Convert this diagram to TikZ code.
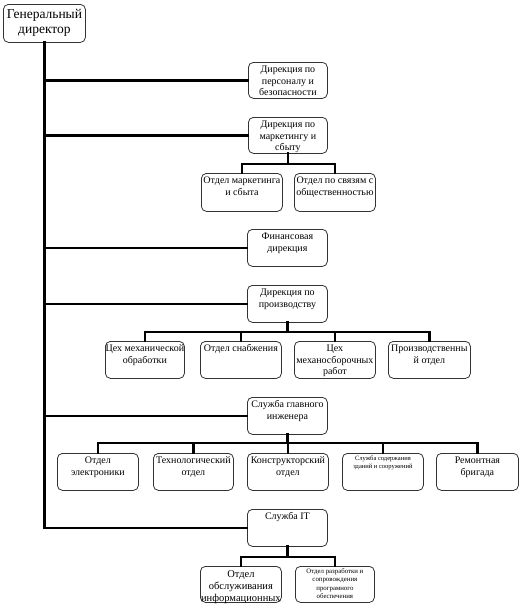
\documentclass[tikz,border=0pt]{standalone}
\usepackage{fontspec}
\setmainfont{Liberation Serif}
\tikzset{
  box/.style={draw=black!80, line width=0.8pt, rounded corners=5pt, inner sep=0pt, fill=white},
  conn/.style={line width=2.7pt, line cap=rect},
}
\newcommand\fa{\fontsize{10}{11.5}\selectfont}
\newcommand\fbig{\fontsize{13.5}{15}\selectfont}
\newcommand\fsmall{\fontsize{6.5}{8}\selectfont}
\newcommand\ftiny{\fontsize{6.8}{8.3}\selectfont}
\newcommand\fmid{\fontsize{10.5}{12}\selectfont}
% name, x, y, w, h, font, text
\newcommand\orgbox[7]{%
  \node[box, anchor=north west] (#1) at (#2pt,-#3pt)
    {\parbox[c][#5pt][t]{#4pt}{\centering #6\rule{0pt}{1.05em}#7\par}};}
\begin{document}
\begin{tikzpicture}
\useasboundingbox (0,0) rectangle (520pt,-608pt);
% nodes
\orgbox{gd}{3}{4}{82}{38}{\fbig}{Генеральный\\директор}
\orgbox{d1}{248}{62}{79}{36}{\fa}{Дирекция по\\персоналу и\\безопасности}
\orgbox{d2}{248}{117}{79}{36}{\fa}{Дирекция по\\маркетингу и\\сбыту}
\orgbox{m1}{201}{173}{81}{38}{\fa}{Отдел маркетинга\\и сбыта}
\orgbox{m2}{294}{173}{81}{38}{\fa}{Отдел по связям с\\общественностью}
\orgbox{d3}{247}{229}{80}{37}{\fa}{Финансовая\\дирекция}
\orgbox{d4}{247}{285}{80}{37}{\fa}{Дирекция по\\производству}
\orgbox{p1}{105}{341}{79}{37}{\fa}{Цех механической\\обработки}
\orgbox{p2}{200}{341}{81}{37}{\fa}{Отдел снабжения}
\orgbox{p3}{294}{341}{81}{37}{\fa}{Цех\\механосборочных\\работ}
\orgbox{p4}{388}{341}{82}{37}{\fa}{Производственны\\й отдел}
\orgbox{d5}{247}{397}{80}{37}{\fa}{Служба главного\\инженера}
\orgbox{e1}{57}{453}{81}{37}{\fa}{Отдел\\электроники}
\orgbox{e2}{153}{453}{80}{37}{\fa}{Технологический\\отдел}
\orgbox{e3}{247}{453}{81}{37}{\fa}{Конструкторский\\отдел}
\orgbox{e4}{342}{453}{81}{37}{\fsmall}{Служба содержания\\зданий и сооружений}
\orgbox{e5}{436}{453}{82}{37}{\fa}{Ремонтная\\бригада}
\orgbox{d6}{247}{509}{80}{37}{\fa}{Служба IT}
\orgbox{i1}{200}{566}{81}{36}{\fmid}{Отдел\\обслуживания\\информационных}
\orgbox{i2}{295}{566}{79}{36}{\ftiny}{Отдел разработки и\\сопровождения\\програмного\\обеспечения}
% bus coordinates
\coordinate (tend) at (gd.south |- d6.west);
\coordinate (b2) at (d2.south |- 0,-164pt);
\coordinate (b4) at (d4.south |- 0,-332pt);
\coordinate (b5) at (d5.south |- 0,-443pt);
\coordinate (b6) at (d6.south |- 0,-557pt);
% trunk and branches
\draw[conn] (gd.south) -- (tend) -- (d6.west);
\foreach \n in {d1,d2,d3,d4,d5} \draw[conn] (gd.south |- \n.west) -- (\n.west);
% sub-connectors
\draw[conn] (d2.south) -- (b2);
\draw[conn] (m1.north) |- (b2) -| (m2.north);
\draw[conn] (d4.south) -- (b4);
\draw[conn] (p1.north) |- (b4) -| (p4.north);
\draw[conn] (p2.north) -- (p2.north |- b4);
\draw[conn] (p3.north) -- (p3.north |- b4);
\draw[conn] (d5.south) -- (b5);
\draw[conn] (e1.north) |- (b5) -| (e5.north);
\draw[conn] (e2.north) -- (e2.north |- b5);
\draw[conn] (e3.north) -- (e3.north |- b5);
\draw[conn] (e4.north) -- (e4.north |- b5);
\draw[conn] (d6.south) -- (b6);
\draw[conn] (i1.north) |- (b6) -| (i2.north);
\end{tikzpicture}
\end{document}
